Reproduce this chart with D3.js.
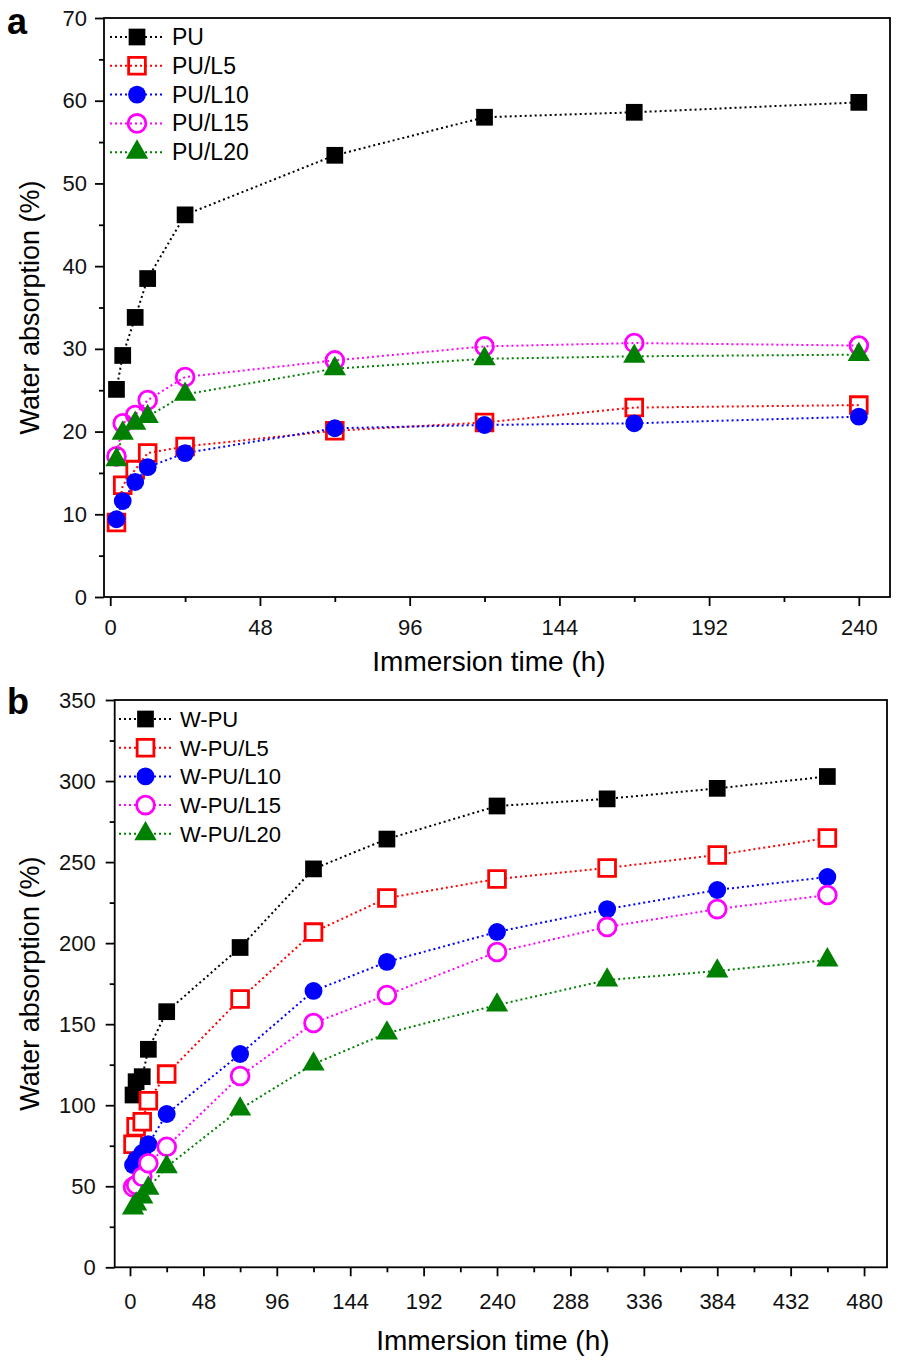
<!DOCTYPE html>
<html><head><meta charset="utf-8">
<script src="https://cdn.jsdelivr.net/npm/d3@7"></script>
<style>
body{margin:0;background:#fff;}
text{font-family:"Liberation Sans",Arial,sans-serif;}
</style></head>
<body><svg id="c" width="898" height="1361"></svg>
<script>
// ---- Panel a data ----
const timeA = [2, 4, 8, 12, 24, 72, 120, 168, 240];
const seriesNamesA = ["PU", "PU/L5", "PU/L10", "PU/L15", "PU/L20"];
const PU     = [25.1, 29.2, 33.8, 38.5, 46.2, 53.4, 58.0, 58.6, 59.8];
const PU_L5  = [9.0, 13.5, 15.4, 17.4, 18.2, 20.1, 21.1, 22.9, 23.2];
const PU_L10 = [9.4, 11.6, 13.9, 15.7, 17.4, 20.4, 20.8, 21.0, 21.8];
const PU_L15 = [17.0, 21.0, 22.0, 23.8, 26.6, 28.6, 30.3, 30.7, 30.4];
const PU_L20 = [16.6, 19.8, 21.0, 21.8, 24.5, 27.6, 28.8, 29.1, 29.3];
const yTicksA = [0, 10, 20, 30, 40, 50, 60, 70];
const xTicksA = [0, 48, 96, 144, 192, 240];

// ---- Panel b data ----
const timeB = [2, 4, 8, 12, 24, 72, 120, 168, 240, 312, 384, 456];
const seriesNamesB = ["W-PU", "W-PU/L5", "W-PU/L10", "W-PU/L15", "W-PU/L20"];
const WPU     = [106.3, 114.5, 117.6, 134.5, 157.7, 197.3, 245.8, 264.2, 284.6, 289.0, 295.5, 302.8];
const WPU_L5  = [75.9, 86.7, 89.8, 102.8, 119.2, 165.5, 206.8, 227.8, 239.6, 246.4, 254.4, 264.9];
const WPU_L10 = [63.1, 66.5, 70.5, 76.0, 94.6, 131.6, 170.5, 188.4, 206.9, 221.0, 232.8, 240.8];
const WPU_L15 = [49.5, 50.8, 55.9, 64.2, 74.4, 118.0, 150.7, 168.0, 194.5, 210.0, 221.0, 229.7];
const WPU_L20 = [36.6, 39.0, 43.4, 48.8, 62.0, 97.6, 125.4, 144.5, 161.8, 177.2, 182.8, 189.6];
const yTicksB = [0, 50, 100, 150, 200, 250, 300, 350];
const xTicksB = [0, 48, 96, 144, 192, 240, 288, 336, 384, 432, 480];

const colors = ["#000000", "#ff0000", "#0000ff", "#ff00ff", "#008000"];
const shapes = ["square", "osquare", "circle", "ocircle", "triangle"];

const svg = d3.select("#c");

function symbolPath(shape) {
  if (shape === "square" || shape === "osquare") return d3.symbol(d3.symbolSquare, 280)();
  if (shape === "circle" || shape === "ocircle") return d3.symbol(d3.symbolCircle, 250)();
  return d3.symbol(d3.symbolTriangle, 215)();
}
function styleMarker(sel, shape, color, hollowFill) {
  const hollow = shape.startsWith("o");
  sel.attr("d", symbolPath(shape))
     .attr("fill", hollow ? hollowFill : color)
     .attr("stroke", color)
     .attr("stroke-width", hollow ? 2.8 : 0);
}

function panel(o) {
  const g = svg.append("g");
  const x = d3.scaleLinear().domain(o.xDomain).range([o.left, o.right]);
  const y = d3.scaleLinear().domain(o.yDomain).range([o.bottom, o.top]);

  // minor ticks
  g.append("g").attr("transform", `translate(0,${o.bottom})`)
    .call(d3.axisBottom(x).tickValues(o.xMinor).tickSize(5).tickFormat("").tickSizeOuter(0))
    .call(s => s.select(".domain").remove());
  g.append("g").attr("transform", `translate(${o.left},0)`)
    .call(d3.axisLeft(y).tickValues(o.yMinor).tickSize(5).tickFormat("").tickSizeOuter(0))
    .call(s => s.select(".domain").remove());
  // major ticks
  const xa = g.append("g").attr("transform", `translate(0,${o.bottom})`)
    .call(d3.axisBottom(x).tickValues(o.xTicks).tickSize(9).tickPadding(o.xPad).tickSizeOuter(0));
  xa.select(".domain").remove();
  xa.selectAll("text").attr("font-size", 22).attr("fill", "#111");
  const ya = g.append("g").attr("transform", `translate(${o.left},0)`)
    .call(d3.axisLeft(y).tickValues(o.yTicks).tickSize(9).tickPadding(o.yPad).tickSizeOuter(0));
  ya.select(".domain").remove();
  ya.selectAll("text").attr("font-size", 22).attr("fill", "#111");
  g.selectAll(".tick line").attr("stroke", "#000").attr("stroke-width", 1.8);

  // frame
  g.append("rect").attr("x", o.left).attr("y", o.top)
    .attr("width", o.right - o.left).attr("height", o.bottom - o.top)
    .attr("fill", "none").attr("stroke", "#000").attr("stroke-width", 1.8);

  // series
  o.series.forEach((vals, i) => {
    const pts = o.time.map((t, j) => [t, vals[j]]);
    g.append("path").datum(pts)
      .attr("d", d3.line().x(d => x(d[0])).y(d => y(d[1])))
      .attr("fill", "none").attr("stroke", colors[i])
      .attr("stroke-width", 2).attr("stroke-dasharray", "2,3");
  });
  o.series.forEach((vals, i) => {
    const pts = o.time.map((t, j) => [t, vals[j]]);
    g.selectAll(null).data(pts).enter().append("path")
      .attr("transform", d => `translate(${x(d[0])},${y(d[1])})`)
      .call(s => styleMarker(s, shapes[i], colors[i], o.hollowFill));
  });

  // legend
  o.names.forEach((n, i) => {
    const ly = o.legY + i * o.legStep;
    g.append("line").attr("x1", o.legX1).attr("x2", o.legX2).attr("y1", ly).attr("y2", ly)
      .attr("stroke", colors[i]).attr("stroke-width", 2).attr("stroke-dasharray", "2,3");
    g.append("path").attr("transform", `translate(${(o.legX1 + o.legX2) / 2},${ly})`)
      .call(s => styleMarker(s, shapes[i], colors[i], o.hollowFill));
    g.append("text").attr("x", o.legX2 + 8).attr("y", ly + 8)
      .attr("font-size", o.legFont).attr("fill", "#000").text(n);
  });

  // axis titles
  g.append("text").attr("x", (o.left + o.right) / 2 - 8).attr("y", o.bottom + o.titleOff)
    .attr("text-anchor", "middle").attr("font-size", 28).text("Immersion time (h)");
  g.append("text").attr("transform", `translate(39,${(o.top + o.bottom) / 2}) rotate(-90)`)
    .attr("text-anchor", "middle").attr("font-size", 27).text("Water absorption (%)");
  // panel label
  g.append("text").attr("x", 7).attr("y", o.labelY).attr("font-size", 36)
    .attr("font-weight", "bold").text(o.label);
}

panel({
  left: 104, right: 890, top: 18, bottom: 597,
  xDomain: [-2, 250], yDomain: [0, 70],
  xTicks: xTicksA, xMinor: [24, 72, 120, 168, 216],
  yTicks: yTicksA, yMinor: [5, 15, 25, 35, 45, 55, 65],
  xPad: 13, yPad: 8, titleOff: 74,
  time: timeA, series: [PU, PU_L5, PU_L10, PU_L15, PU_L20], names: seriesNamesA,
  hollowFill: "none",
  legX1: 110, legX2: 164, legY: 37, legStep: 28.8, legFont: 23,
  label: "a", labelY: 34
});

panel({
  left: 114.7, right: 887, top: 700, bottom: 1267.3,
  xDomain: [-10, 495], yDomain: [0, 350],
  xTicks: xTicksB, xMinor: [24, 72, 120, 168, 216, 264, 312, 360, 408, 456],
  yTicks: yTicksB, yMinor: [25, 75, 125, 175, 225, 275, 325],
  xPad: 17, yPad: 10, titleOff: 83,
  time: timeB, series: [WPU, WPU_L5, WPU_L10, WPU_L15, WPU_L20], names: seriesNamesB,
  hollowFill: "#fff",
  legX1: 119, legX2: 172, legY: 719, legStep: 28.7, legFont: 22,
  label: "b", labelY: 714
});
</script></body></html>
